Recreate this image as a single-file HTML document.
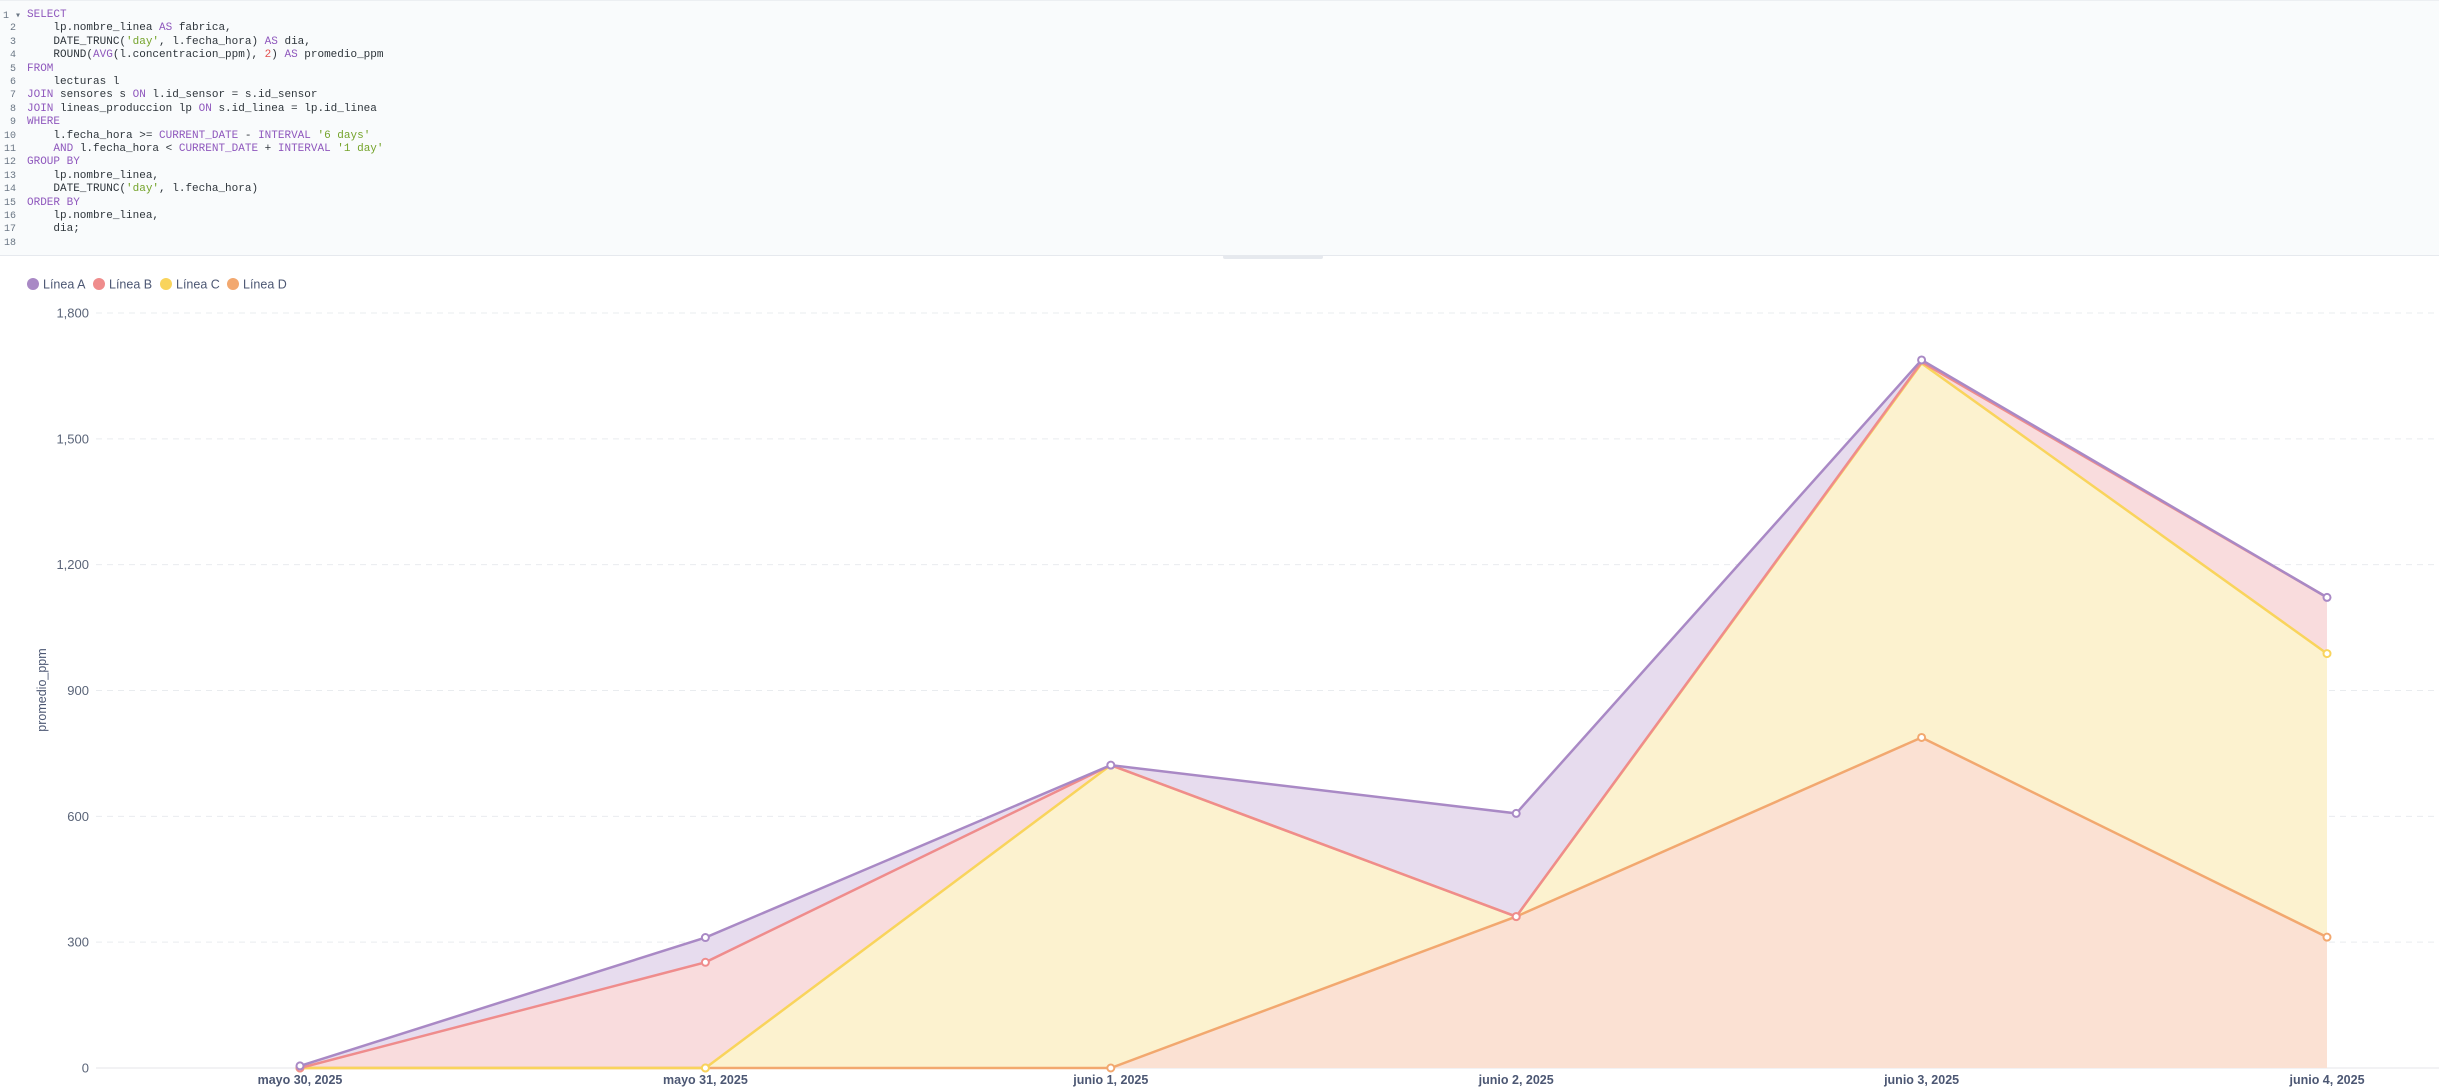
<!DOCTYPE html>
<html><head><meta charset="utf-8"><style>
html,body{margin:0;padding:0;width:2439px;height:1090px;overflow:hidden;background:#fff;font-family:"Liberation Sans",sans-serif}
#editor{position:absolute;left:0;top:0;width:2439px;height:256px;background:#F9FBFC;border-bottom:1px solid #E6E9EE;border-top:1px solid #eceff2;box-sizing:border-box}
.ln{position:absolute;left:0;width:16px;text-align:right;font:10px "Liberation Mono",monospace;color:#6b7785}
.cl{position:absolute;left:27px;font:11px "Liberation Mono",monospace;color:#2e353b;white-space:pre}
.k{color:#8f58bd}.s{color:#74a32a}.n{color:#e3504f}
#handle{position:absolute;left:1223px;top:255px;width:100px;height:4px;background:#E6E9EE;border-radius:2px}
</style></head><body>
<div id="editor"></div>
<div id="handle"></div>
<svg id="chart" width="2439" height="1090" style="position:absolute;left:0;top:0" xmlns="http://www.w3.org/2000/svg"></svg>
<script>
const codeLines=[
'<span class="k">SELECT</span>',
'    lp.nombre_linea <span class="k">AS</span> fabrica,',
'    DATE_TRUNC(<span class="s">\'day\'</span>, l.fecha_hora) <span class="k">AS</span> dia,',
'    ROUND(<span class="k">AVG</span>(l.concentracion_ppm), <span class="n">2</span>) <span class="k">AS</span> promedio_ppm',
'<span class="k">FROM</span>',
'    lecturas l',
'<span class="k">JOIN</span> sensores s <span class="k">ON</span> l.id_sensor = s.id_sensor',
'<span class="k">JOIN</span> lineas_produccion lp <span class="k">ON</span> s.id_linea = lp.id_linea',
'<span class="k">WHERE</span>',
'    l.fecha_hora >= <span class="k">CURRENT_DATE</span> - <span class="k">INTERVAL</span> <span class="s">\'6 days\'</span>',
'    <span class="k">AND</span> l.fecha_hora < <span class="k">CURRENT_DATE</span> + <span class="k">INTERVAL</span> <span class="s">\'1 day\'</span>',
'<span class="k">GROUP BY</span>',
'    lp.nombre_linea,',
'    DATE_TRUNC(<span class="s">\'day\'</span>, l.fecha_hora)',
'<span class="k">ORDER BY</span>',
'    lp.nombre_linea,',
'    dia;',''];
const ed=document.getElementById('editor');
codeLines.forEach((c,i)=>{
  const y=8+i*13.4;
  const n=document.createElement('div');n.className='ln';n.style.top=(y+1)+'px';n.textContent=(i+1)+(i==0?' ▾':'');
  if(i==0){n.style.width='22px';n.style.textAlign='left';n.style.left='3px';}
  
  
  ed.appendChild(n);
  const d=document.createElement('div');d.className='cl';d.style.top=y+'px';d.innerHTML=c;
  
  
  ed.appendChild(d);
});
</script>
<script>
const categories=['mayo 30, 2025','mayo 31, 2025','junio 1, 2025','junio 2, 2025','junio 3, 2025','junio 4, 2025'];
const seriesNames=['Línea A','Línea B','Línea C','Línea D'];
const lineaA=[5,59,0,246,5,0];
const lineaB=[0,252,0,0,3,134];
const lineaC=[0,0,722,0,892,676];
const lineaD=[0,0,0,361,788,312];
const yTicks=[0,300,600,900,1200,1500,1800];
const yTickLabels=['0','300','600','900','1,200','1,500','1,800'];

const svg=document.getElementById('chart');const NS='http://www.w3.org/2000/svg';
const X0=300,XSTEP=405.4,Y0=1068,YMAX=1800,YTOP=313;
const xs=i=>X0+i*XSTEP; const ys=v=>Y0-(v/YMAX)*(Y0-YTOP);
function el(t,a,name,p){const e=document.createElementNS(NS,t);for(const k in a)e.setAttribute(k,a[k]);(p||svg).appendChild(e);return e;}
yTicks.forEach((v,i)=>{
  if(v>0)el('line',{x1:96,x2:2439,y1:ys(v),y2:ys(v),stroke:'#E9ECEF','stroke-dasharray':'6,5'},'grid-line');
  else el('line',{x1:96,x2:2439,y1:ys(v),y2:ys(v),stroke:'#EDEEF0','stroke-width':1.5},'x-axis-line');
  const t=el('text',{x:89,y:ys(v)+4.5,'text-anchor':'end','font-size':13,fill:'#5a6478'},'y-tick-label');t.textContent=yTickLabels[i];
});
const yt=el('text',{x:46,y:690,'text-anchor':'middle','font-size':12.5,fill:'#4C5773',transform:'rotate(-90 46 690)'},'y-axis-title');yt.textContent='promedio_ppm';
categories.forEach((c,i)=>{const t=el('text',{x:xs(i),y:1084,'text-anchor':'middle','font-size':12.5,'font-weight':'bold',fill:'#4C5773'},'x-tick-label');t.textContent=c;});
const order=[lineaD,lineaC,lineaB,lineaA];
const strokes=['#F2A86F','#F9D45C','#EF8C8C','#A989C5'];
const fills=['#FBE1D3','#FCF2CF','#F9DCDD','#E7DCEE'];
const names=['linea-d','linea-c','linea-b','linea-a'];
const cum=[];let acc=categories.map(()=>0);
order.forEach(s=>{acc=acc.map((a,i)=>a+s[i]);cum.push(acc.slice());});
for(let k=3;k>=0;k--){
  const pts=cum[k].map((v,i)=>xs(i)+','+ys(v)).join(' ');
  el('polygon',{points:pts+' '+xs(5)+','+Y0+' '+xs(0)+','+Y0,fill:fills[k]},names[k]+'-area');
}
for(let k=0;k<4;k++){
  el('polyline',{points:cum[k].map((v,i)=>xs(i)+','+ys(v)).join(' '),fill:'none',stroke:strokes[k],'stroke-width':2.5},names[k]+'-line');
}
const markerIdx=[[0,1,2,3,4,5],[0,1,5],[0,1,3],[0,1,2,3,4,5]];
for(let k=0;k<4;k++){
  markerIdx[k].forEach(i=>el('circle',{cx:xs(i),cy:ys(cum[k][i]),r:3.5,fill:'#fff',stroke:strokes[k],'stroke-width':2},names[k]+'-point'));
}
const legColors=['#A989C5','#EF8C8C','#F9D45C','#F2A86F'];
let lx=33;const legW=[66,67,67,67];
seriesNames.forEach((n,i)=>{
  const g=el('g',{},'legend-entry');
  el('circle',{cx:lx,cy:284,r:6,fill:legColors[i]},'legend-dot',g);
  const t=el('text',{x:lx+10,y:288.5,'font-size':12.5,fill:'#4C5773'},'legend-label',g);t.textContent=n;
  lx+=legW[i];
});
</script>
</body></html>
